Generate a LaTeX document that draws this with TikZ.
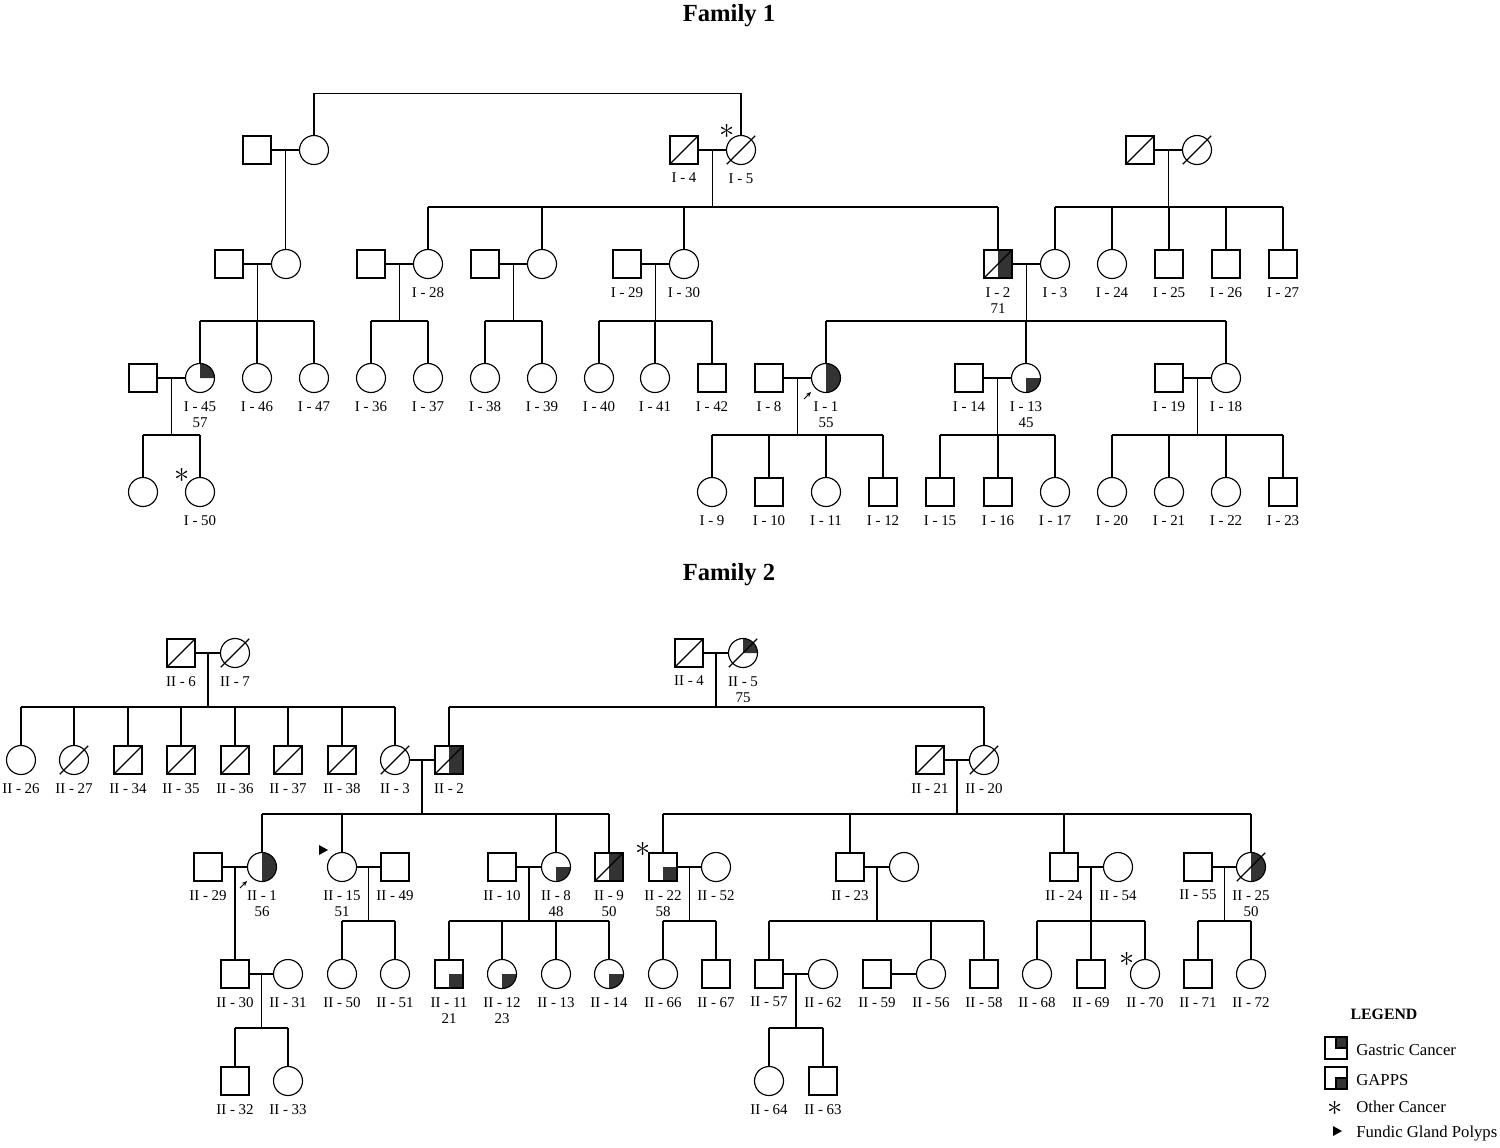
\documentclass[tikz,border=0pt]{standalone}
\usepackage{fontspec}
\setmainfont{Liberation Serif}
\usetikzlibrary{arrows.meta, calc, backgrounds}
\definecolor{pedfill}{HTML}{333333}
\tikzset{
    >=Stealth,
    font=\fontsize{8.5}{9.2}\selectfont,
    ped_male/.style={
        rectangle,
        draw,
        line width=0.65pt,
        minimum size=0.56cm,
        inner sep=0pt,
        outer sep=0pt
    },
    ped_female/.style={
        circle,
        draw,
        line width=0.65pt,
        minimum size=0.58cm,
        inner sep=0pt,
        outer sep=0pt
    },
    ped_id/.style={
        align=center,
        inner sep=0pt,
        label distance=5pt
    },
    ped_line/.style={
        line width=0.65pt
    },
    ped_fill/.style={
        fill=pedfill
    },
    ped_ast/.style={
        font=\fontsize{17}{17}\selectfont,
        inner sep=0pt
    },
    ped_proband/.style={
        -{Stealth[length=3pt, width=2.6pt]},
        line width=0.5pt
    },
    ped_title/.style={
        font=\fontsize{14}{16}\selectfont\bfseries,
        inner sep=0pt
    },
    leg_title/.style={
        font=\fontsize{9}{10}\selectfont\bfseries,
        inner sep=0pt
    },
    leg_box/.style={
        rectangle,
        draw,
        line width=1.3pt,
        minimum size=0.44cm,
        inner sep=0pt,
        outer sep=0pt
    },
    leg_text/.style={
        anchor=west,
        font=\fontsize{9.5}{11}\selectfont,
        inner sep=0pt
    }
}
% filled quarters and halves
\newcommand{\pedSqTR}[1]{\fill[ped_fill] (#1.center) rectangle (#1.north east);}
\newcommand{\pedSqBR}[1]{\fill[ped_fill] (#1.center) rectangle (#1.south east);}
\newcommand{\pedSqRH}[1]{\fill[ped_fill] (#1.north) rectangle (#1.south east);}
\newcommand{\pedCi}[3]{\fill[ped_fill, shift={(#1.center)}, x=1cm, y=1cm] (0,0) -- (#2:0.29) arc[start angle=#2, end angle=#3, radius=0.29] -- cycle;}
% deceased
\newcommand{\pedDeadSq}[1]{\draw[ped_line] (#1.south west) -- (#1.north east);}
\newcommand{\pedDeadCi}[1]{\draw[ped_line, shorten <=-3.2pt, shorten >=-3.2pt] (#1.225) -- (#1.45);}
\newcommand{\pedProband}[1]{\draw[ped_proband] ($(#1)+(-22,21)$) -- ($(#1)+(-15,14)$);}
\newcommand{\pedFGP}[1]{\fill ($(#1)+(-4,-5)$) -- ($(#1)+(5,0)$) -- ($(#1)+(-4,5)$) -- cycle;}

\begin{document}
\begin{tikzpicture}[x=0.02cm, y=-0.02cm]
\useasboundingbox (0,0) rectangle (1500,1147);

% ================= Family 1 =================
\node[ped_title] (fam1) at (729,16) {Family 1};

% --- Generation 1 ---
\node[ped_male] (gA1) at (257,150) {};
\node[ped_female] (gA2) at (314,150) {};
\node[ped_male, label={[ped_id]below:I - 4}] (I4) at (684,150) {};
\node[ped_female, label={[ped_id]below:I - 5}] (I5) at (741,150) {};
\node[ped_male] (gC1) at (1140,150) {};
\node[ped_female] (gC2) at (1197,150) {};
\node[ped_ast] (astI5) at (727,131) {$\ast$};

% --- Generation 2 ---
\node[ped_male] (pA1) at (229,264) {};
\node[ped_female] (pA2) at (286,264) {};
\node[ped_male] (pB1) at (371,264) {};
\node[ped_female, label={[ped_id]below:I - 28}] (I28) at (428,264) {};
\node[ped_male] (pC1) at (485,264) {};
\node[ped_female] (pC2) at (542,264) {};
\node[ped_male, label={[ped_id]below:I - 29}] (I29) at (627,264) {};
\node[ped_female, label={[ped_id]below:I - 30}] (I30) at (684,264) {};
\node[ped_male, label={[ped_id]below:I - 2\\71}] (I2) at (998,264) {};
\node[ped_female, label={[ped_id]below:I - 3}] (I3) at (1055,264) {};
\node[ped_female, label={[ped_id]below:I - 24}] (I24) at (1112,264) {};
\node[ped_male, label={[ped_id]below:I - 25}] (I25) at (1169,264) {};
\node[ped_male, label={[ped_id]below:I - 26}] (I26) at (1226,264) {};
\node[ped_male, label={[ped_id]below:I - 27}] (I27) at (1283,264) {};

% --- Generation 3 ---
\node[ped_male] (pD1) at (143,378) {};
\node[ped_female, label={[ped_id]below:I - 45\\57}] (I45) at (200,378) {};
\node[ped_female, label={[ped_id]below:I - 46}] (I46) at (257,378) {};
\node[ped_female, label={[ped_id]below:I - 47}] (I47) at (314,378) {};
\node[ped_female, label={[ped_id]below:I - 36}] (I36) at (371,378) {};
\node[ped_female, label={[ped_id]below:I - 37}] (I37) at (428,378) {};
\node[ped_female, label={[ped_id]below:I - 38}] (I38) at (485,378) {};
\node[ped_female, label={[ped_id]below:I - 39}] (I39) at (542,378) {};
\node[ped_female, label={[ped_id]below:I - 40}] (I40) at (599,378) {};
\node[ped_female, label={[ped_id]below:I - 41}] (I41) at (655,378) {};
\node[ped_male, label={[ped_id]below:I - 42}] (I42) at (712,378) {};
\node[ped_male, label={[ped_id]below:I - 8}] (I8) at (769,378) {};
\node[ped_female, label={[ped_id]below:I - 1\\55}] (I1) at (826,378) {};
\node[ped_male, label={[ped_id]below:I - 14}] (I14) at (969,378) {};
\node[ped_female, label={[ped_id]below:I - 13\\45}] (I13) at (1026,378) {};
\node[ped_male, label={[ped_id]below:I - 19}] (I19) at (1169,378) {};
\node[ped_female, label={[ped_id]below:I - 18}] (I18) at (1226,378) {};

% --- Generation 4 ---
\node[ped_female] (cD1) at (143,492) {};
\node[ped_female, label={[ped_id]below:I - 50}] (I50) at (200,492) {};
\node[ped_ast] (astI50) at (182,475) {$\ast$};
\node[ped_female, label={[ped_id]below:I - 9}] (I9) at (712,492) {};
\node[ped_male, label={[ped_id]below:I - 10}] (I10) at (769,492) {};
\node[ped_female, label={[ped_id]below:I - 11}] (I11) at (826,492) {};
\node[ped_male, label={[ped_id]below:I - 12}] (I12) at (883,492) {};
\node[ped_male, label={[ped_id]below:I - 15}] (I15) at (940,492) {};
\node[ped_male, label={[ped_id]below:I - 16}] (I16) at (998,492) {};
\node[ped_female, label={[ped_id]below:I - 17}] (I17) at (1055,492) {};
\node[ped_female, label={[ped_id]below:I - 20}] (I20) at (1112,492) {};
\node[ped_female, label={[ped_id]below:I - 21}] (I21) at (1169,492) {};
\node[ped_female, label={[ped_id]below:I - 22}] (I22) at (1226,492) {};
\node[ped_male, label={[ped_id]below:I - 23}] (I23) at (1283,492) {};

% --- Family 1 edges ---
\begin{scope}[ped_line]
\draw (gA2.north) -- ++(0,-42) -| (I5.north);

\draw (gA1) -- (gA2);
\coordinate (mA) at ($(gA1)!0.5!(gA2)$);
\draw (mA) -- (mA |- pA2.north);

\draw (I4) -- (I5);
\coordinate (mI4) at ($(I4)!0.5!(I5)$);
\draw (mI4) -- ++(0,57) coordinate (sI4);
\draw (I28.north |- sI4) -- (I2.north |- sI4);
\foreach \c in {I28, pC2, I30, I2} {\draw (\c.north) -- (\c.north |- sI4);}

\draw (gC1) -- (gC2);
\coordinate (mC) at ($(gC1)!0.5!(gC2)$);
\draw (mC) -- ++(0,57) coordinate (sC);
\draw (I3.north |- sC) -- (I27.north |- sC);
\foreach \c in {I3, I24, I25, I26, I27} {\draw (\c.north) -- (\c.north |- sC);}

\draw (pA1) -- (pA2);
\coordinate (mA2) at ($(pA1)!0.5!(pA2)$);
\draw (mA2) -- ++(0,57) coordinate (sA2);
\draw (I45.north |- sA2) -- (I47.north |- sA2);
\foreach \c in {I45, I46, I47} {\draw (\c.north) -- (\c.north |- sA2);}

\draw (pB1) -- (I28);
\coordinate (mB) at ($(pB1)!0.5!(I28)$);
\draw (mB) -- ++(0,57) coordinate (sB);
\draw (I36.north |- sB) -- (I37.north |- sB);
\foreach \c in {I36, I37} {\draw (\c.north) -- (\c.north |- sB);}

\draw (pC1) -- (pC2);
\coordinate (mC2) at ($(pC1)!0.5!(pC2)$);
\draw (mC2) -- ++(0,57) coordinate (sC2);
\draw (I38.north |- sC2) -- (I39.north |- sC2);
\foreach \c in {I38, I39} {\draw (\c.north) -- (\c.north |- sC2);}

\draw (I29) -- (I30);
\coordinate (mI29) at ($(I29)!0.5!(I30)$);
\draw (mI29) -- ++(0,57) coordinate (sI29);
\draw (I40.north |- sI29) -- (I42.north |- sI29);
\foreach \c in {I40, I41, I42} {\draw (\c.north) -- (\c.north |- sI29);}

\draw (I2) -- (I3);
\coordinate (mI2) at ($(I2)!0.5!(I3)$);
\draw (mI2) -- ++(0,57) coordinate (sI2);
\draw (I1.north |- sI2) -- (I18.north |- sI2);
\foreach \c in {I1, I13, I18} {\draw (\c.north) -- (\c.north |- sI2);}

\draw (pD1) -- (I45);
\coordinate (mD) at ($(pD1)!0.5!(I45)$);
\draw (mD) -- ++(0,57) coordinate (sD);
\draw (cD1.north |- sD) -- (I50.north |- sD);
\foreach \c in {cD1, I50} {\draw (\c.north) -- (\c.north |- sD);}

\draw (I8) -- (I1);
\coordinate (mI8) at ($(I8)!0.5!(I1)$);
\draw (mI8) -- ++(0,57) coordinate (sI8);
\draw (I9.north |- sI8) -- (I12.north |- sI8);
\foreach \c in {I9, I10, I11, I12} {\draw (\c.north) -- (\c.north |- sI8);}

\draw (I14) -- (I13);
\coordinate (mI14) at ($(I14)!0.5!(I13)$);
\draw (mI14) -- ++(0,57) coordinate (sI14);
\draw (I15.north |- sI14) -- (I17.north |- sI14);
\foreach \c in {I15, I16, I17} {\draw (\c.north) -- (\c.north |- sI14);}

\draw (I19) -- (I18);
\coordinate (mI19) at ($(I19)!0.5!(I18)$);
\draw (mI19) -- ++(0,57) coordinate (sI19);
\draw (I20.north |- sI19) -- (I23.north |- sI19);
\foreach \c in {I20, I21, I22, I23} {\draw (\c.north) -- (\c.north |- sI19);}
\end{scope}

% --- Family 1 status ---
\pedDeadSq{I4} \pedDeadCi{I5}
\pedDeadSq{gC1} \pedDeadCi{gC2}
\pedDeadSq{I2}
\pedProband{I1}
\begin{scope}[on background layer]
\pedSqRH{I2}
\pedCi{I45}{0}{90}
\pedCi{I1}{-90}{90}
\pedCi{I13}{-90}{0}
\end{scope}

% ================= Family 2 =================
\node[ped_title] (fam2) at (729,575) {Family 2};

% --- Generation 1 ---
\node[ped_male, label={[ped_id]below:II - 6}] (II6) at (181,653) {};
\node[ped_female, label={[ped_id]below:II - 7}] (II7) at (235,653) {};
\node[ped_male, label={[ped_id]below:II - 4}] (II4) at (689,653) {};
\node[ped_female, label={[ped_id]below:II - 5\\75}] (II5) at (743,653) {};

% --- Generation 2 ---
\node[ped_female, label={[ped_id]below:II - 26}] (II26) at (21,760) {};
\node[ped_female, label={[ped_id]below:II - 27}] (II27) at (74,760) {};
\node[ped_male, label={[ped_id]below:II - 34}] (II34) at (128,760) {};
\node[ped_male, label={[ped_id]below:II - 35}] (II35) at (181,760) {};
\node[ped_male, label={[ped_id]below:II - 36}] (II36) at (235,760) {};
\node[ped_male, label={[ped_id]below:II - 37}] (II37) at (288,760) {};
\node[ped_male, label={[ped_id]below:II - 38}] (II38) at (342,760) {};
\node[ped_female, label={[ped_id]below:II - 3}] (II3) at (395,760) {};
\node[ped_male, label={[ped_id]below:II - 2}] (II2) at (449,760) {};
\node[ped_male, label={[ped_id]below:II - 21}] (II21) at (930,760) {};
\node[ped_female, label={[ped_id]below:II - 20}] (II20) at (984,760) {};

% --- Generation 3 ---
\node[ped_male, label={[ped_id]below:II - 29}] (II29) at (208,867) {};
\node[ped_female, label={[ped_id]below:II - 1\\56}] (II1) at (262,867) {};
\node[ped_female, label={[ped_id]below:II - 15\\51}] (II15) at (342,867) {};
\node[ped_male, label={[ped_id]below:II - 49}] (II49) at (395,867) {};
\node[ped_male, label={[ped_id]below:II - 10}] (II10) at (502,867) {};
\node[ped_female, label={[ped_id]below:II - 8\\48}] (II8) at (556,867) {};
\node[ped_male, label={[ped_id]below:II - 9\\50}] (II9) at (609,867) {};
\node[ped_male, label={[ped_id]below:II - 22\\58}] (II22) at (663,867) {};
\node[ped_female, label={[ped_id]below:II - 52}] (II52) at (716,867) {};
\node[ped_male, label={[ped_id]below:II - 23}] (II23) at (850,867) {};
\node[ped_female] (pE2) at (904,867) {};
\node[ped_male, label={[ped_id]below:II - 24}] (II24) at (1064,867) {};
\node[ped_female, label={[ped_id]below:II - 54}] (II54) at (1118,867) {};
\node[ped_male, label={[ped_id]below:II - 55}] (II55) at (1198,867) {};
\node[ped_female, label={[ped_id]below:II - 25\\50}] (II25) at (1251,867) {};
\node[ped_ast] (astII22) at (643,849) {$\ast$};
\coordinate (fgpII15) at (323,850);

% --- Generation 4 ---
\node[ped_male, label={[ped_id]below:II - 30}] (II30) at (235,974) {};
\node[ped_female, label={[ped_id]below:II - 31}] (II31) at (288,974) {};
\node[ped_female, label={[ped_id]below:II - 50}] (II50) at (342,974) {};
\node[ped_female, label={[ped_id]below:II - 51}] (II51) at (395,974) {};
\node[ped_male, label={[ped_id]below:II - 11\\21}] (II11) at (449,974) {};
\node[ped_female, label={[ped_id]below:II - 12\\23}] (II12) at (502,974) {};
\node[ped_female, label={[ped_id]below:II - 13}] (II13) at (556,974) {};
\node[ped_female, label={[ped_id]below:II - 14}] (II14) at (609,974) {};
\node[ped_female, label={[ped_id]below:II - 66}] (II66) at (663,974) {};
\node[ped_male, label={[ped_id]below:II - 67}] (II67) at (716,974) {};
\node[ped_male, label={[ped_id]below:II - 57}] (II57) at (769,974) {};
\node[ped_female, label={[ped_id]below:II - 62}] (II62) at (823,974) {};
\node[ped_male, label={[ped_id]below:II - 59}] (II59) at (877,974) {};
\node[ped_female, label={[ped_id]below:II - 56}] (II56) at (931,974) {};
\node[ped_male, label={[ped_id]below:II - 58}] (II58) at (984,974) {};
\node[ped_female, label={[ped_id]below:II - 68}] (II68) at (1037,974) {};
\node[ped_male, label={[ped_id]below:II - 69}] (II69) at (1091,974) {};
\node[ped_female, label={[ped_id]below:II - 70}] (II70) at (1145,974) {};
\node[ped_male, label={[ped_id]below:II - 71}] (II71) at (1198,974) {};
\node[ped_female, label={[ped_id]below:II - 72}] (II72) at (1251,974) {};
\node[ped_ast] (astII70) at (1127,959) {$\ast$};

% --- Generation 5 ---
\node[ped_male, label={[ped_id]below:II - 32}] (II32) at (235,1081) {};
\node[ped_female, label={[ped_id]below:II - 33}] (II33) at (288,1081) {};
\node[ped_female, label={[ped_id]below:II - 64}] (II64) at (769,1081) {};
\node[ped_male, label={[ped_id]below:II - 63}] (II63) at (823,1081) {};

% --- Family 2 edges ---
\begin{scope}[ped_line]
\draw (II6) -- (II7);
\coordinate (mII6) at ($(II6)!0.5!(II7)$);
\draw (mII6) -- ++(0,54) coordinate (sII6);
\draw (II26.north |- sII6) -- (II3.north |- sII6);
\foreach \c in {II26, II27, II34, II35, II36, II37, II38, II3} {\draw (\c.north) -- (\c.north |- sII6);}

\draw (II4) -- (II5);
\coordinate (mII4) at ($(II4)!0.5!(II5)$);
\draw (mII4) -- ++(0,54) coordinate (sII4);
\draw (II2.north |- sII4) -- (II20.north |- sII4);
\foreach \c in {II2, II20} {\draw (\c.north) -- (\c.north |- sII4);}

\draw (II3) -- (II2);
\coordinate (mII3) at ($(II3)!0.5!(II2)$);
\draw (mII3) -- ++(0,54) coordinate (sII3);
\draw (II1.north |- sII3) -- (II9.north |- sII3);
\foreach \c in {II1, II15, II8, II9} {\draw (\c.north) -- (\c.north |- sII3);}

\draw (II21) -- (II20);
\coordinate (mII21) at ($(II21)!0.5!(II20)$);
\draw (mII21) -- ++(0,54) coordinate (sII21);
\draw (II22.north |- sII21) -- (II25.north |- sII21);
\foreach \c in {II22, II23, II24, II25} {\draw (\c.north) -- (\c.north |- sII21);}

\draw (II29) -- (II1);
\coordinate (mII29) at ($(II29)!0.5!(II1)$);
\draw (mII29) -- (mII29 |- II30.north);

\draw (II15) -- (II49);
\coordinate (mII15) at ($(II15)!0.5!(II49)$);
\draw (mII15) -- ++(0,54) coordinate (sII15);
\draw (II50.north |- sII15) -- (II51.north |- sII15);
\foreach \c in {II50, II51} {\draw (\c.north) -- (\c.north |- sII15);}

\draw (II10) -- (II8);
\coordinate (mII10) at ($(II10)!0.5!(II8)$);
\draw (mII10) -- ++(0,54) coordinate (sII10);
\draw (II11.north |- sII10) -- (II14.north |- sII10);
\foreach \c in {II11, II12, II13, II14} {\draw (\c.north) -- (\c.north |- sII10);}

\draw (II22) -- (II52);
\coordinate (mII22) at ($(II22)!0.5!(II52)$);
\draw (mII22) -- ++(0,54) coordinate (sII22);
\draw (II66.north |- sII22) -- (II67.north |- sII22);
\foreach \c in {II66, II67} {\draw (\c.north) -- (\c.north |- sII22);}

\draw (II23) -- (pE2);
\coordinate (mII23) at ($(II23)!0.5!(pE2)$);
\draw (mII23) -- ++(0,54) coordinate (sII23);
\draw (II57.north |- sII23) -- (II58.north |- sII23);
\foreach \c in {II57, II56, II58} {\draw (\c.north) -- (\c.north |- sII23);}

\draw (II24) -- (II54);
\coordinate (mII24) at ($(II24)!0.5!(II54)$);
\draw (mII24) -- ++(0,54) coordinate (sII24);
\draw (II68.north |- sII24) -- (II70.north |- sII24);
\foreach \c in {II68, II69, II70} {\draw (\c.north) -- (\c.north |- sII24);}

\draw (II55) -- (II25);
\coordinate (mII55) at ($(II55)!0.5!(II25)$);
\draw (mII55) -- ++(0,54) coordinate (sII55);
\draw (II71.north |- sII55) -- (II72.north |- sII55);
\foreach \c in {II71, II72} {\draw (\c.north) -- (\c.north |- sII55);}

\draw (II30) -- (II31);
\coordinate (mII30) at ($(II30)!0.5!(II31)$);
\draw (mII30) -- ++(0,54) coordinate (sII30);
\draw (II32.north |- sII30) -- (II33.north |- sII30);
\foreach \c in {II32, II33} {\draw (\c.north) -- (\c.north |- sII30);}

\draw (II57) -- (II62);
\coordinate (mII57) at ($(II57)!0.5!(II62)$);
\draw (mII57) -- ++(0,54) coordinate (sII57);
\draw (II64.north |- sII57) -- (II63.north |- sII57);
\foreach \c in {II64, II63} {\draw (\c.north) -- (\c.north |- sII57);}

\draw (II59) -- (II56);
\end{scope}

% --- Family 2 status ---
\foreach \p in {II6, II4, II34, II35, II36, II37, II38, II2, II21, II9} {\pedDeadSq{\p}}
\foreach \p in {II7, II5, II27, II3, II20, II25} {\pedDeadCi{\p}}
\pedProband{II1}
\pedFGP{fgpII15}
\begin{scope}[on background layer]
\pedCi{II5}{0}{90}
\pedSqRH{II2}
\pedCi{II1}{-90}{90}
\pedCi{II8}{-90}{0}
\pedSqRH{II9}
\pedSqBR{II22}
\pedCi{II25}{-90}{90}
\pedSqBR{II11}
\pedCi{II12}{-90}{0}
\pedCi{II14}{-90}{0}
\end{scope}

% ================= Legend =================
\node[leg_title] (legTitle) at (1384,1014) {LEGEND};
\node[leg_box] (legGC) at (1336,1048) {};
\draw[ped_fill, line width=1.3pt] (legGC.center) rectangle (legGC.north east);
\node[leg_text] (legGCt) at (1356,1050) {Gastric Cancer};
\node[leg_box] (legGA) at (1336,1078) {};
\draw[ped_fill, line width=1.3pt] (legGA.center) rectangle (legGA.south east);
\node[leg_text] (legGAt) at (1356,1080) {GAPPS};
\node[ped_ast] (legOC) at (1335,1108) {$\ast$};
\node[leg_text] (legOCt) at (1356,1107) {Other Cancer};
\coordinate (legFG) at (1337,1131);
\pedFGP{legFG}
\node[leg_text] (legFGt) at (1356,1133) {Fundic Gland Polyps};

\end{tikzpicture}
\end{document}
